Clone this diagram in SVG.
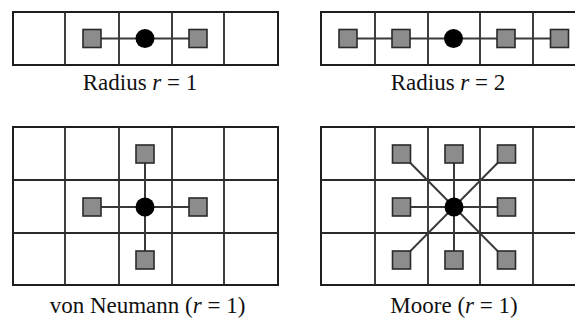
<svg xmlns="http://www.w3.org/2000/svg" width="575" height="323" viewBox="0 0 575 323">
<style>
.grid{fill:none;stroke:#1e1e1e;stroke-width:2}
.gl{stroke:#2a2a2a;stroke-width:1.8}
.conn{stroke:#3a3a3a;stroke-width:2;fill:none}
.sq{fill:#8c8c8c;stroke:#2a2a2a;stroke-width:1.6}
.ctr{fill:#000}
.lbl{font-size:23px;fill:#111;text-anchor:middle}
.it{font-style:italic}
</style>
<rect width="575" height="323" fill="#fff"/>

<g id="grid-r1">
<rect class="grid" x="13" y="12" width="265" height="53"/>
<line class="gl" x1="65" y1="12" x2="65" y2="65"/>
<line class="gl" x1="119" y1="12" x2="119" y2="65"/>
<line class="gl" x1="172" y1="12" x2="172" y2="65"/>
<line class="gl" x1="224" y1="12" x2="224" y2="65"/>
</g>
<g id="grid-r2">
<rect class="grid" x="321" y="12" width="266" height="53"/>
<line class="gl" x1="375" y1="12" x2="375" y2="65"/>
<line class="gl" x1="428" y1="12" x2="428" y2="65"/>
<line class="gl" x1="480" y1="12" x2="480" y2="65"/>
<line class="gl" x1="533" y1="12" x2="533" y2="65"/>
</g>
<g id="grid-vn">
<rect class="grid" x="13" y="127" width="265" height="158"/>
<line class="gl" x1="65" y1="127" x2="65" y2="285"/>
<line class="gl" x1="119" y1="127" x2="119" y2="285"/>
<line class="gl" x1="172" y1="127" x2="172" y2="285"/>
<line class="gl" x1="224" y1="127" x2="224" y2="285"/>
<line class="gl" x1="13" y1="180" x2="278" y2="180"/>
<line class="gl" x1="13" y1="233" x2="278" y2="233"/>
</g>
<g id="grid-moore">
<rect class="grid" x="321" y="127" width="266" height="158"/>
<line class="gl" x1="375" y1="127" x2="375" y2="285"/>
<line class="gl" x1="428" y1="127" x2="428" y2="285"/>
<line class="gl" x1="480" y1="127" x2="480" y2="285"/>
<line class="gl" x1="533" y1="127" x2="533" y2="285"/>
<line class="gl" x1="321" y1="180" x2="587" y2="180"/>
<line class="gl" x1="321" y1="233" x2="587" y2="233"/>
</g>

<g id="connectors">
<line class="conn" x1="92" y1="38.5" x2="198" y2="38.5"/>
<line class="conn" x1="348" y1="38.5" x2="559.5" y2="38.5"/>
<line class="conn" x1="92" y1="207" x2="198" y2="207"/>
<line class="conn" x1="145" y1="154" x2="145" y2="260"/>
<line class="conn" x1="401.5" y1="207" x2="506.5" y2="207"/>
<line class="conn" x1="454" y1="154" x2="454" y2="260"/>
<line class="conn" x1="401.5" y1="154" x2="506.5" y2="260"/>
<line class="conn" x1="506.5" y1="154" x2="401.5" y2="260"/>
</g>

<g id="nodes-r1">
<rect class="sq" x="83" y="29.5" width="18" height="18"/>
<circle class="ctr" cx="145" cy="38.5" r="9.5"/>
<rect class="sq" x="189" y="29.5" width="18" height="18"/>
</g>
<g id="nodes-r2">
<rect class="sq" x="339" y="29.5" width="18" height="18"/>
<rect class="sq" x="392" y="29.5" width="18" height="18"/>
<circle class="ctr" cx="453.5" cy="38.5" r="9.5"/>
<rect class="sq" x="497" y="29.5" width="18" height="18"/>
<rect class="sq" x="550.5" y="29.5" width="18" height="18"/>
</g>
<g id="nodes-vn">
<rect class="sq" x="136" y="145" width="18" height="18"/>
<rect class="sq" x="83" y="198" width="18" height="18"/>
<circle class="ctr" cx="145" cy="207" r="9.5"/>
<rect class="sq" x="189" y="198" width="18" height="18"/>
<rect class="sq" x="136" y="251" width="18" height="18"/>
</g>
<g id="nodes-moore">
<rect class="sq" x="392.5" y="145" width="18" height="18"/>
<rect class="sq" x="445" y="145" width="18" height="18"/>
<rect class="sq" x="497.5" y="145" width="18" height="18"/>
<rect class="sq" x="392.5" y="198" width="18" height="18"/>
<circle class="ctr" cx="454" cy="207" r="9.5"/>
<rect class="sq" x="497.5" y="198" width="18" height="18"/>
<rect class="sq" x="392.5" y="251" width="18" height="18"/>
<rect class="sq" x="445" y="251" width="18" height="18"/>
<rect class="sq" x="497.5" y="251" width="18" height="18"/>
</g>

<g id="labels" font-family="Liberation Serif, DejaVu Serif, serif">
<text class="lbl" x="140" y="90">Radius <tspan class="it">r</tspan> = 1</text>
<text class="lbl" x="448" y="90">Radius <tspan class="it">r</tspan> = 2</text>
<text class="lbl" x="147.5" y="313">von Neumann (<tspan class="it">r</tspan> = 1)</text>
<text class="lbl" x="454" y="313">Moore (<tspan class="it">r</tspan> = 1)</text>
</g>
</svg>
